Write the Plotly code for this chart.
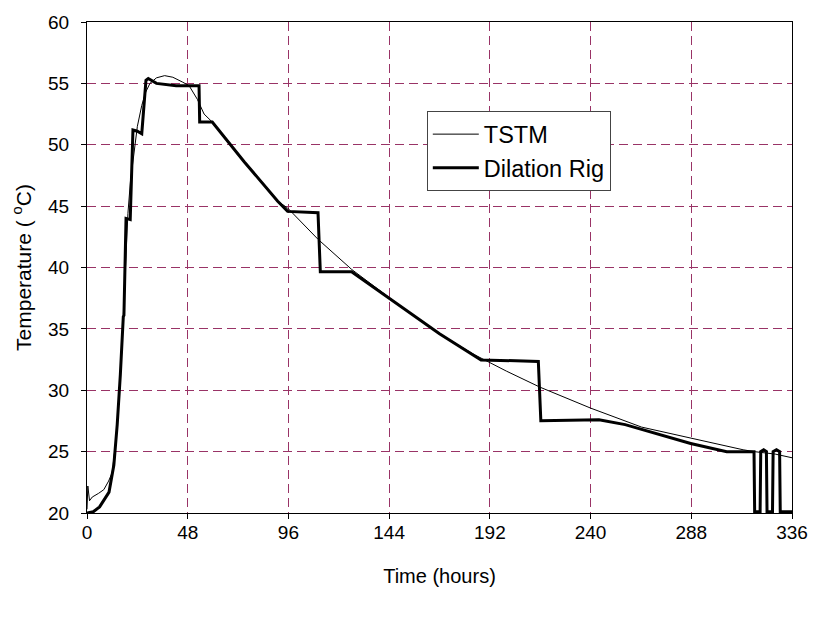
import plotly.graph_objects as go

# TSTM temperature history (hours, deg C)
tstm_hours = [0, 0.4, 1.2, 2.5, 5.5, 8, 10.3, 12, 13.5, 15, 16.5, 18, 19.5, 20.7,
              22.2, 24.0, 26.1, 28, 30, 33.1, 37, 40.9, 45.6, 48.7, 52.6, 55.8,
              59.7, 75, 90.9, 95.6, 110.1, 126.1, 148.7, 168, 184.6, 200, 215.9,
              240.1, 264.3, 287.7, 312.7, 318, 328, 336]
tstm_temp = [20.3, 22.2, 21.0, 21.3, 21.6, 21.9, 22.6, 23.3, 25.5, 28.7, 33.0, 38.5,
             44.4, 47.0, 49.2, 51.5, 53.2, 54.3, 55.0, 55.45, 55.63, 55.5, 55.1, 54.8,
             53.7, 52.5, 51.85, 48.6, 45.4, 44.85, 42.3, 39.85, 36.95, 34.6, 32.9,
             31.55, 30.25, 28.54, 27.0, 26.1, 25.15, 25.0, 24.8, 24.5]

# Dilation rig temperature history (hours, deg C)
rig_hours = [0, 3, 6, 8, 10.5, 12.8, 14.4, 15.9, 17.0, 17.3, 17.6, 18.3, 18.6, 20.6,
             21.9, 24.0, 26.1, 28.1, 29.2, 33.1, 42.5, 53.4, 53.7, 59.7, 75, 90.9,
             95.6, 110.1, 111.2, 126.1, 148.7, 168, 187.8, 215.1, 216.3, 244, 256.5,
             272.1, 287.7, 304.9, 317.9, 318.2, 320.8, 321.1, 322.5, 323.8, 324.1,
             326.7, 327, 328.6, 330.1, 330.4, 336]
rig_temp = [20.0, 20.1, 20.5, 21.0, 21.7, 23.9, 27.2, 31.3, 35.6, 36.0, 36.1, 43.9,
            44.0, 43.9, 51.2, 51.1, 50.9, 55.25, 55.4, 55.0, 54.8, 54.8, 51.85, 51.85,
            48.6, 45.4, 44.57, 44.47, 39.65, 39.65, 36.95, 34.6, 32.47, 32.35, 27.52,
            27.6, 27.2, 26.4, 25.66, 25.0, 25.0, 20.1, 20.1, 25.0, 25.15, 25.0, 20.1,
            20.1, 25.0, 25.15, 25.0, 20.1, 20.1]

x_ticks = [0, 48, 96, 144, 192, 240, 288, 336]
y_ticks = [20, 25, 30, 35, 40, 45, 50, 55, 60]

FONT = "Arial, 'Liberation Sans', sans-serif"
GRID = "#993366"

fig = go.Figure()
fig.add_trace(go.Scatter(x=tstm_hours, y=tstm_temp, mode="lines", name="TSTM",
                         line=dict(color="black", width=1)))
fig.add_trace(go.Scatter(x=rig_hours, y=rig_temp, mode="lines", name="Dilation Rig",
                         line=dict(color="black", width=3)))

axis_common = dict(
    showline=True, linecolor="black", linewidth=1, mirror=True,
    ticks="outside", ticklen=5, tickcolor="black", tickwidth=1,
    showgrid=True, gridcolor=GRID, gridwidth=1, griddash="9px,5px",
    zeroline=False, tickfont=dict(family=FONT, size=19, color="black"),
)

fig.update_xaxes(range=[0, 336], tickvals=x_ticks, ticktext=[str(v) for v in x_ticks],
                 ticklabelstandoff=-3,
                 title=dict(text="Time (hours)", font=dict(family=FONT, size=20, color="black"),
                            standoff=27),
                 **axis_common)
fig.update_yaxes(range=[20, 60], tickvals=y_ticks, ticktext=[str(v) for v in y_ticks],
                 ticklabelstandoff=8,
                 title=dict(text="Temperature ( <sup>o</sup>C)",
                            font=dict(family=FONT, size=21, color="black"), standoff=10),
                 **axis_common)

fig.update_layout(
    width=820, height=624,
    margin=dict(l=87, r=22, t=15, b=111),
    paper_bgcolor="white", plot_bgcolor="white",
    font=dict(family=FONT, color="black"),
    showlegend=True,
    legend=dict(x=0.482, y=0.818, xanchor="left", yanchor="top",
                bgcolor="white", bordercolor="#444444", borderwidth=1,
                font=dict(family=FONT, size=23.5, color="black"),
                itemwidth=46, tracegroupgap=0),
)

fig.write_html("out.html")
